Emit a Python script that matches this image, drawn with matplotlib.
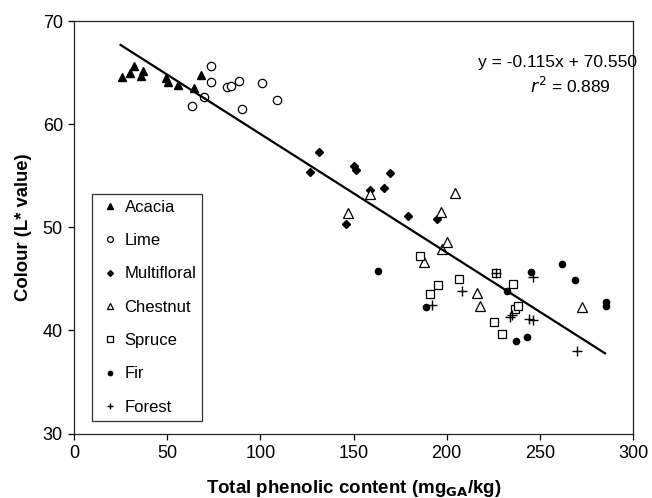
import matplotlib
matplotlib.use("Agg")
import matplotlib.pyplot as plt
import numpy as np

plt.rcParams['font.family'] = ['Liberation Sans', 'DejaVu Sans']

acacia_x = [25.6, 30.2, 32.4, 36.0, 36.9, 49.2, 50.3, 55.7, 64.4, 68.0]
acacia_y = [64.55, 64.94, 65.67, 64.7, 65.19, 64.45, 64.13, 63.8, 63.48, 64.74]

lime_x = [63.3, 69.9, 73.7, 73.7, 82.3, 84.4, 88.7, 90.2, 101.1, 108.8]
lime_y = [61.8, 62.64, 65.64, 64.07, 63.58, 63.68, 64.16, 61.45, 64.0, 62.35]

multi_x = [126.7, 131.3, 146.0, 150.1, 151.2, 158.9, 166.6, 169.5, 179.3, 194.8]
multi_y = [55.32, 57.25, 50.35, 55.9, 55.51, 53.64, 53.8, 55.22, 51.1, 50.8]

chestnut_x = [146.9, 158.9, 187.9, 196.8, 197.7, 200.4, 204.7, 216.2, 218.1, 272.5]
chestnut_y = [51.38, 53.25, 46.67, 51.48, 47.9, 48.54, 53.3, 43.67, 42.41, 42.25]

spruce_x = [185.6, 190.9, 195.6, 206.5, 225.6, 226.7, 229.7, 235.5, 236.9, 238.5]
spruce_y = [47.25, 43.57, 44.41, 45.02, 40.86, 45.6, 39.63, 44.51, 42.1, 42.34]

fir_x = [163.3, 188.8, 232.3, 237.4, 243.2, 245.3, 261.9, 268.7, 285.4, 285.4]
fir_y = [45.73, 42.3, 43.86, 39.0, 39.38, 45.7, 46.45, 44.86, 42.77, 42.41]

forest_x = [192.3, 208.3, 226.7, 234.0, 235.3, 244.4, 246.2, 246.6, 270.0]
forest_y = [42.48, 43.86, 45.6, 41.28, 41.47, 41.13, 40.99, 45.15, 38.0]

slope = -0.115
intercept = 70.550
r2 = 0.889
fit_range = [25, 285]

fig = plt.figure(figsize=(6.52, 4.98), dpi=100)
ax = fig.add_axes([74/652, 1-433.5/498, (633-74)/652, (433.5-21)/498])

ax.plot(acacia_x, acacia_y, linestyle='none', marker='^', ms=6, mfc='black', mec='black', label='Acacia')
ax.plot(lime_x, lime_y, linestyle='none', marker='o', ms=6, mfc='white', mec='black', mew=0.9, label='Lime')
ax.plot(multi_x, multi_y, linestyle='none', marker='D', ms=4.2, mfc='black', mec='black', label='Multifloral')
ax.plot(chestnut_x, chestnut_y, linestyle='none', marker='^', ms=7, mfc='white', mec='black', mew=0.9, label='Chestnut')
ax.plot(spruce_x, spruce_y, linestyle='none', marker='s', ms=6, mfc='white', mec='black', mew=0.9, label='Spruce')
ax.plot(fir_x, fir_y, linestyle='none', marker='o', ms=4.5, mfc='black', mec='black', label='Fir')
ax.plot(forest_x, forest_y, linestyle='none', marker='+', ms=7, mec='black', mew=1.0, label='Forest')

fx = np.array(fit_range, dtype=float)
ax.plot(fx, slope*fx + intercept, color='black', lw=1.6)

ax.set_xlim(0, 300)
ax.set_ylim(30, 70)
ax.set_xticks([0, 50, 100, 150, 200, 250, 300])
ax.set_yticks([30, 40, 50, 60, 70])
ax.tick_params(direction='out', length=4.5, width=0.9, labelsize=13, top=False, right=False)
for s in ax.spines.values():
    s.set_linewidth(0.9)
    s.set_color('#222222')

ax.set_xlabel('Total phenolic content (mg$_{\\mathbf{GA}}$/kg)', fontsize=13.5, fontweight='bold', labelpad=12)
ax.set_ylabel('Colour (L* value)', fontsize=13.3, fontweight='bold', labelpad=8)

fig.text(557/652, 1-62/498, f'y = {slope:.3f}x + {intercept:.3f}', fontsize=12.5, ha='center', va='center')
fig.text(570/652, 1-86/498, f'$r^2$ = {r2:.3f}', fontsize=12.5, ha='center', va='center')

leg = ax.legend(loc='upper left', bbox_to_anchor=(92/652, 1-194/498), bbox_transform=fig.transFigure,
                frameon=True, fancybox=False, edgecolor='black', fontsize=12,
                markerscale=0.7, handlelength=1.4, handletextpad=0.2, labelspacing=1.1,
                borderpad=0.35, borderaxespad=0, numpoints=1)
leg.get_frame().set_linewidth(0.9)

fig.savefig('out.png', dpi=100)
